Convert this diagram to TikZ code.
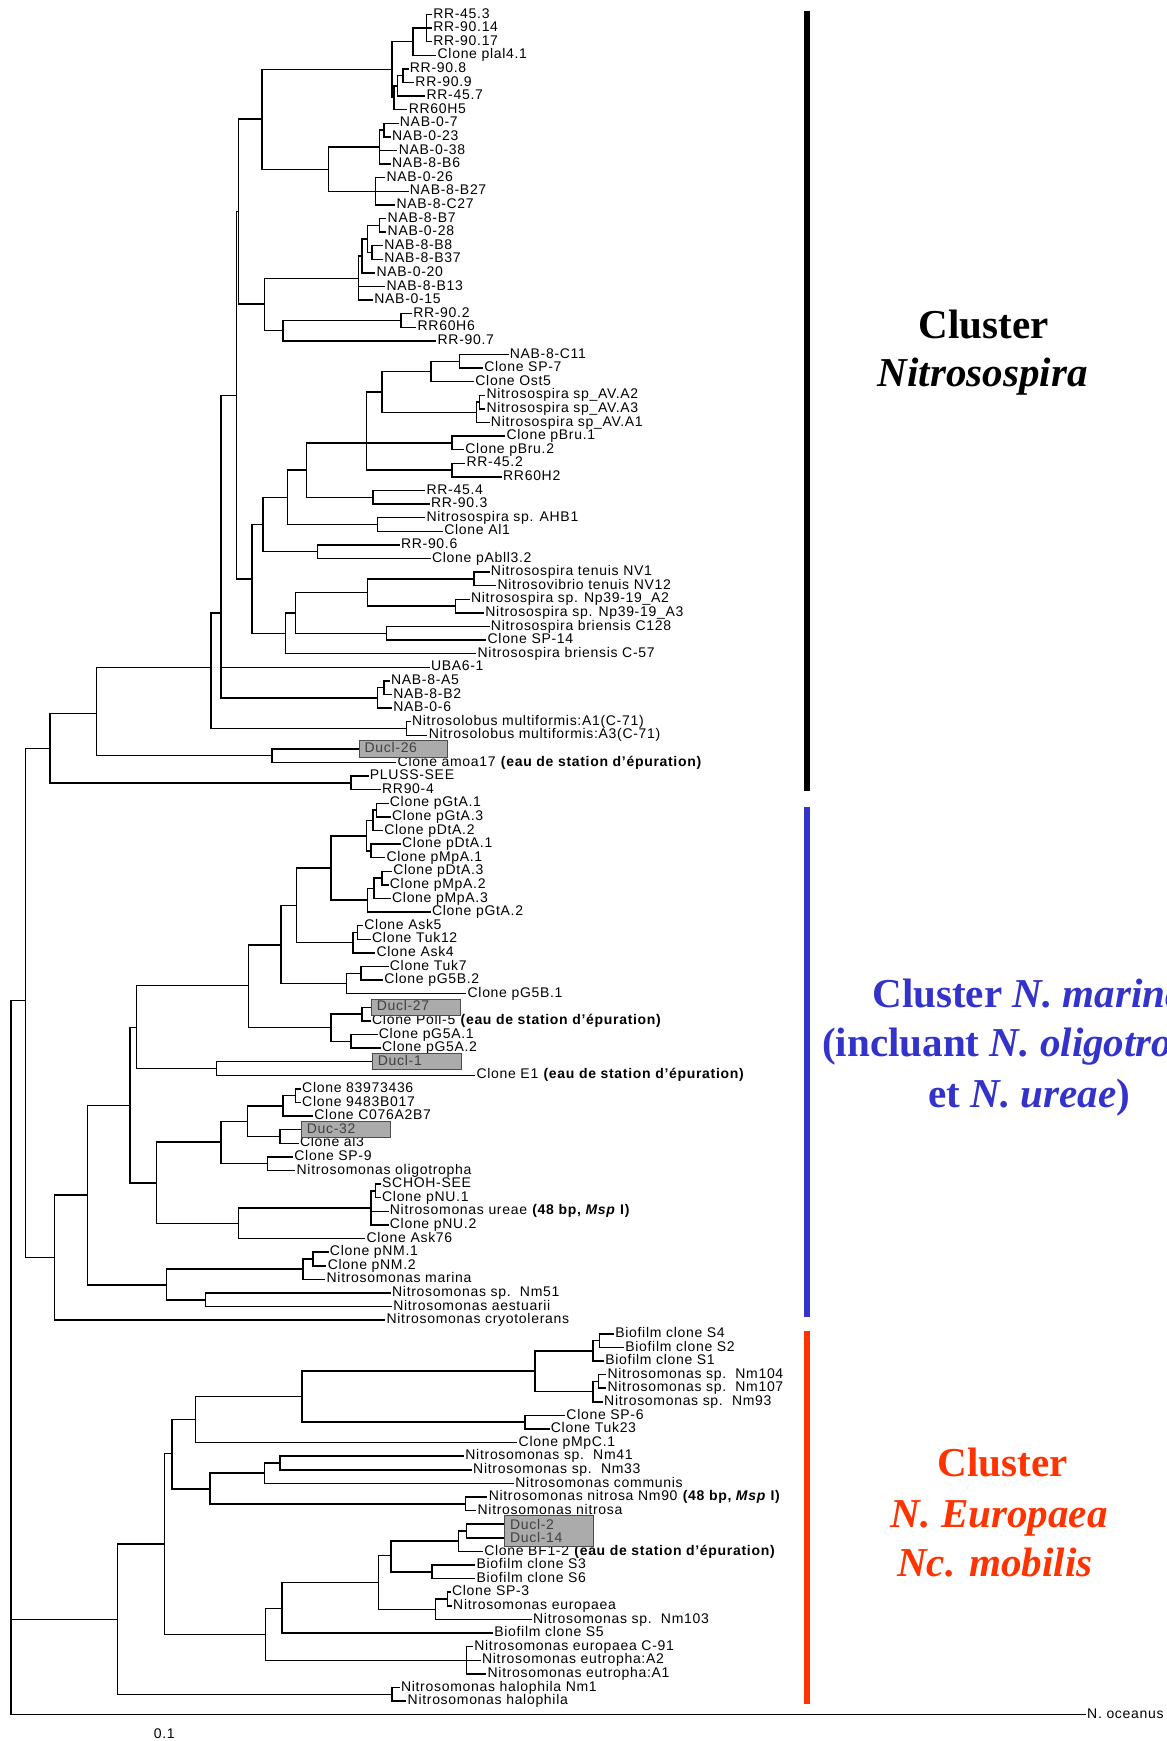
\documentclass[tikz,border=0pt]{standalone}
\usepackage{fontspec}
\setmainfont{Liberation Sans}
\newfontfamily\labfont[LetterSpace=5]{Liberation Sans}
\newfontfamily\clufont{Liberation Serif}
\definecolor{marblue}{RGB}{51,51,204}
\definecolor{eured}{RGB}{255,51,0}
\tikzset{
  lab/.style={anchor=west, inner sep=1pt, text height=9pt, text depth=2.5pt,
    font=\labfont\fontsize{12.6}{13}\selectfont},
  branch/.style={line width=1.3pt},
  ducbox/.style={anchor=west, draw=black!70, line width=0.8pt, fill=black!33, text=black!75,
    inner xsep=5pt, inner ysep=1.5pt, text width=70pt, align=left,
    font=\labfont\fontsize{12.6}{12.25}\selectfont},
  duc1/.style={ducbox, text height=9pt, text depth=2.5pt},
  clu/.style={anchor=base, font=\clufont\bfseries\fontsize{37}{44}\selectfont},
  bar/.style={line width=5pt},
}

\begin{document}
\begin{tikzpicture}[x=1pt,y=-12.25pt]
\useasboundingbox (0,-0.0612) rectangle (1051,127.94);

% tips, one row each
\foreach \r/\x/\t in {1/390/RR-45.3, 2/390/RR-90.14, 3/390/RR-90.17, 4/394/Clone plal4.1,
  5/369/RR-90.8, 6/374/RR-90.9, 7/384/RR-45.7, 8/368/RR60H5, 9/360/NAB-0-7, 10/353/NAB-0-23,
  11/359/NAB-0-38, 12/353/NAB-8-B6, 13/348/NAB-0-26, 14/369/NAB-8-B27, 15/357/NAB-8-C27,
  16/349/NAB-8-B7, 17/349/NAB-0-28, 18/346/NAB-8-B8, 19/346/NAB-8-B37, 20/339/NAB-0-20,
  21/348/NAB-8-B13, 22/337/NAB-0-15, 23/372/RR-90.2, 24/376/RR60H6, 25/394/RR-90.7,
  26/459/NAB-8-C11, 27/436/Clone SP-7, 28/428/Clone Ost5, 29/438/Nitrosospira sp\_AV.A2,
  30/438/Nitrosospira sp\_AV.A3, 31/442/Nitrosospira sp\_AV.A1, 32/456/Clone pBru.1,
  33/419/Clone pBru.2, 34/420/RR-45.2, 35/453/RR60H2, 36/384/RR-45.4, 37/388/RR-90.3,
  38/384/Nitrosospira sp. AHB1, 39/400/Clone Al1, 40/361/RR-90.6, 41/389/Clone pAbll3.2,
  42/442/Nitrosospira tenuis NV1, 43/448/Nitrosovibrio tenuis NV12,
  44/424/Nitrosospira sp. Np39-19\_A2, 45/437/Nitrosospira sp. Np39-19\_A3,
  46/442/Nitrosospira briensis C128, 47/439/Clone SP-14, 48/430/Nitrosospira briensis C-57,
  49/388/UBA6-1, 50/352/NAB-8-A5, 51/354/NAB-8-B2, 52/354/NAB-0-6,
  53/371/Nitrosolobus multiformis:A1(C-71), 54/386/Nitrosolobus multiformis:A3(C-71),
  56/358/{Clone amoa17 \textbf{(eau de station d’épuration)}}, 57/333/PLUSS-SEE, 58/344/RR90-4,
  59/351/Clone pGtA.1, 60/353/Clone pGtA.3, 61/346/Clone pDtA.2, 62/362/Clone pDtA.1,
  63/348/Clone pMpA.1, 64/354/Clone pDtA.3, 65/351/Clone pMpA.2, 66/353/Clone pMpA.3,
  67/389/Clone pGtA.2, 68/328/Clone Ask5, 69/335/Clone Tuk12, 70/339/Clone Ask4,
  71/351/Clone Tuk7, 72/346/Clone pG5B.2, 73/421/Clone pG5B.1,
  75/335/{Clone Poll-5 \textbf{(eau de station d’épuration)}}, 76/341/Clone pG5A.1,
  77/344/Clone pG5A.2, 79/429/{Clone E1 \textbf{(eau de station d’épuration)}},
  80/272/Clone 83973436, 81/272/Clone 9483B017, 82/283/Clone C076A2B7, 84/270/Clone al3,
  85/265/Clone SP-9, 86/267/Nitrosomonas oligotropha, 87/344/SCHOH-SEE, 88/344/Clone pNU.1,
  89/351/{Nitrosomonas ureae \textbf{(48 bp, \textit{Msp} I)}}, 90/351/Clone pNU.2,
  91/330/Clone Ask76, 92/297/Clone pNM.1, 93/295/Clone pNM.2, 94/294/Nitrosomonas marina,
  95/353/Nitrosomonas sp.~~Nm51, 96/354/Nitrosomonas aestuarii,
  97/348/Nitrosomonas cryotolerans, 98/554/Biofilm clone S4, 99/563/Biofilm clone S2,
  100/545/Biofilm clone S1, 101/547/Nitrosomonas sp.~~Nm104, 102/547/Nitrosomonas sp.~~Nm107,
  103/544/Nitrosomonas sp.~~Nm93, 104/510/Clone SP-6, 105/496/Clone Tuk23,
  106/467/Clone pMpC.1, 107/419/Nitrosomonas sp.~~Nm41, 108/426/Nitrosomonas sp.~~Nm33,
  109/464/Nitrosomonas communis, 110/440/{Nitrosomonas nitrosa Nm90 \textbf{(48 bp, \textit{Msp} I)}},
  111/430/Nitrosomonas nitrosa, 114/436/{Clone BF1-2 \textbf{(eau de station d’épuration)}},
  115/429/Biofilm clone S3, 116/429/Biofilm clone S6, 117/407/Clone SP-3,
  118/408/Nitrosomonas europaea, 119/480/Nitrosomonas sp.~~Nm103, 120/445/Biofilm clone S5,
  121/427/Nitrosomonas europaea C-91, 122/434/Nitrosomonas eutropha:A2,
  123/439/Nitrosomonas eutropha:A1, 124/361/Nitrosomonas halophila Nm1,
  125/367/Nitrosomonas halophila, 126/979/N. oceanus}
  \node[lab] (t\r) at (\x-1,\r) {\t};

% our own clones in grey boxes
\node[duc1] (t55) at (323,55) {Ducl-26};
\node[duc1] (t74) at (334,74) {Ducl-27};
\node[duc1] (t78) at (335,78) {Ducl-1};
\node[duc1] (t83) at (271,83) {Duc-32};
\node[ducbox, minimum height=28pt] (dbox) at (454,112.5) {Ducl-2\\Ducl-14};
\coordinate (d112) at (454,112);
\coordinate (d113) at (454,113);

% inner nodes
\foreach \n/\x/\r in {a1/384/2, a2/372/3, a3/363/5.5, a4/358/6.25, a5/355/7.1, a6/353/5.05,
  b1/346/9.5, b2/342/10.75, b3/338/14, b4/296/12.4, b5/236/8.7,
  c1/342/16.5, c2/335/18.5, c3/331/17.5, c4/326/18.75, c5/323/20.4,
  d1/361/23.5, d2/255/24.25, d3/238/22.3, e1/215/15.5,
  h1/414/26.5, h2/388/27.25, h3/432/29.5, h4/429/30.25, h5/344/28.75, h6/407/32.5,
  h7/407/34.5, h8/330/32.5, h9/336/36.5, h10/276/34.5, h11/340/38.5, h12/259/36.5,
  h13/286/40.5, h14/237/38.5, i1/427/42.5, i2/410/44.5, i3/331/43.5, i4/348/46.5,
  i5/266/45, i6/257/46.5, i7/227/42.5, j1/213/29, j2/199/45, j3/346/50.5, j4/340/51.25,
  j5/366/53.5, k0/190/49, k1/87/52.4, k2/45/54.95, k3/245/55.5, q1/316/57.5,
  m1/339/59.5, m2/336/60.25, m3/334/62.5, m4/330/61.4, m5/344/64.5, m6/337/65.25,
  m7/331/66.1, m8/298/63.75, m9/322/68.5, m10/318/69.25, m11/267/66.5, m12/325/71.5,
  m13/312/72.25, m14/253/69.4, m15/326/74.5, m16/316/76.5, m17/298/75.5, m18/224/72.4,
  m19/195/78.5, m20/123/75.5, m21/117/81.2,
  n1/266/80.5, n2/255/81.25, n3/252/83.5, n4/223/82.4, n5/241/85.5, n6/199/83.9,
  n7/338/87.5, n8/334/88.75, n9/215/89.9, n10/141/86.9, n11/282/92.5, n12/273/93.25,
  n13/185/95.5, n14/150/94.4, n15/79/87.8, n16/49/92.4,
  o1/540/98.5, o2/534/99.25, o3/539/101.5, o4/534/102.25, o5/482/100.75, o6/473/104.5,
  o7/272/102.6, o8/176/104.3, o9/252/107.5, o10/238/108.25, o11/419/110.5, o12/189/109.4,
  o13/155/106.8, p1/420/112.5, p2/413/113.25, p3/389/115.5, p4/352/114.3, p5/403/117.5,
  p6/392/118.25, p7/341/116.3, p8/254/118.2, p9/420/122, p10/239/120.1, p11/148/113.45,
  p12/353/124.5, p13/106/119, R1/23/73.5, R0/10/99.75}
  \coordinate (\n) at (\x,\r);

% branches
\foreach \p/\c in {a1/t1.west, a1/t2.west, a1/t3.west, a2/a1, a2/t4.west,
  a3/t5.west, a3/t6.west, a4/a3, a4/t7.west, a5/a4, a5/t8.west, a6/a2, a6/a5,
  b1/t9.west, b1/t10.west, b2/b1, b2/t11.west, b2/t12.west,
  b3/t13.west, b3/t14.west, b3/t15.west, b4/b2, b4/b3, b5/a6, b5/b4,
  c1/t16.west, c1/t17.west, c2/t18.west, c2/t19.west, c3/c1, c3/c2, c4/c3, c4/t20.west,
  c5/c4, c5/t21.west, c5/t22.west, d1/t23.west, d1/t24.west, d2/d1, d2/t25.west,
  d3/c5, d3/d2, e1/b5, e1/d3,
  h1/t26.west, h1/t27.west, h2/h1, h2/t28.west, h3/t29.west, h3/t30.west, h4/h3, h4/t31.west,
  h5/h2, h5/h4, h6/t32.west, h6/t33.west, h7/t34.west, h7/t35.west, h8/h5, h8/h6, h8/h7,
  h9/t36.west, h9/t37.west, h10/h8, h10/h9, h11/t38.west, h11/t39.west, h12/h10, h12/h11,
  h13/t40.west, h13/t41.west, h14/h12, h14/h13,
  i1/t42.west, i1/t43.west, i2/t44.west, i2/t45.west, i3/i1, i3/i2, i4/t46.west, i4/t47.west,
  i5/i3, i5/i4, i6/i5, i6/t48.west, i7/h14, i7/i6, j1/e1, j1/i7,
  j3/t50.west, j3/t51.west, j4/j3, j4/t52.west, j2/j1, j2/t49.west, j2/j4,
  j5/t53.west, j5/t54.west, k0/j2, k0/j5,
  k3/t55.west, k3/t56.west, k1/k0, k1/k3, q1/t57.west, q1/t58.west, k2/k1, k2/q1,
  m1/t59.west, m1/t60.west, m2/m1, m2/t61.west, m3/t62.west, m3/t63.west, m4/m2, m4/m3,
  m5/t64.west, m5/t65.west, m6/m5, m6/t66.west, m7/m6, m7/t67.west, m8/m4, m8/m7,
  m9/t68.west, m9/t69.west, m10/m9, m10/t70.west, m11/m8, m11/m10,
  m12/t71.west, m12/t72.west, m13/m12, m13/t73.west, m14/m11, m14/m13,
  m15/t74.west, m15/t75.west, m16/t76.west, m16/t77.west, m17/m15, m17/m16, m18/m14, m18/m17,
  m19/t78.west, m19/t79.west, m20/m18, m20/m19,
  n1/t80.west, n1/t81.west, n2/n1, n2/t82.west, n3/t83.west, n3/t84.west, n4/n2, n4/n3,
  n5/t85.west, n5/t86.west, n6/n4, n6/n5, n7/t87.west, n7/t88.west, n8/n7, n8/t89.west,
  n8/t90.west, n9/n8, n9/t91.west, n10/n6, n10/n9, m21/m20, m21/n10,
  n11/t92.west, n11/t93.west, n12/n11, n12/t94.west, n13/t95.west, n13/t96.west, n14/n12,
  n14/n13, n15/m21, n15/n14, n16/n15, n16/t97.west, R1/k2, R1/n16,
  o1/t98.west, o1/t99.west, o2/o1, o2/t100.west, o3/t101.west, o3/t102.west, o4/o3,
  o4/t103.west, o5/o2, o5/o4, o6/t104.west, o6/t105.west, o7/o5, o7/o6, o8/o7, o8/t106.west,
  o9/t107.west, o9/t108.west, o10/o9, o10/t109.west, o11/t110.west, o11/t111.west,
  o12/o10, o12/o11, o13/o8, o13/o12,
  p1/d112, p1/d113, p2/p1, p2/t114.west, p3/t115.west, p3/t116.west, p4/p2, p4/p3,
  p5/t117.west, p5/t118.west, p6/p5, p6/t119.west, p7/p4, p7/p6, p8/p7, p8/t120.west,
  p9/t121.west, p9/t122.west, p9/t123.west, p10/p8, p10/p9, p11/o13, p11/p10,
  p12/t124.west, p12/t125.west, p13/p11, p13/p12, R0/R1, R0/p13, R0/t126.west}
  \draw[branch] (\p) |- (\c);

% cluster bars and names
\draw[bar] (727,0.755) -- (727,58.06);
\draw[bar, marblue] (727,59.29) -- (727,96.76);
\draw[bar, eured] (727,97.82) -- (727,125.25);
\node[clu] (nsp1) at (886,24.84) {Cluster};
\node[clu] (nsp2) at (885,28.35) {\itshape Nitrosospira};
\node[clu, text=marblue] (mar1) at (927,73.98) {Cluster \textit{N. marina}};
\node[clu, text=marblue] (mar2) at (927,77.65) {(incluant \textit{N. oligotropha}};
\node[clu, text=marblue] (mar3) at (927,81.33) {et \textit{N. ureae})};
\node[clu, text=eured] (eur1) at (903,108.51) {Cluster};
\node[clu, text=eured] (eur2) at (900,112.27) {\itshape N. Europaea};
\node[clu, text=eured] (eur3) at (896,115.86) {\itshape Nc. mobilis};

\node[lab, anchor=base] (scale) at (148,127.75) {0.1};
\end{tikzpicture}
\end{document}
